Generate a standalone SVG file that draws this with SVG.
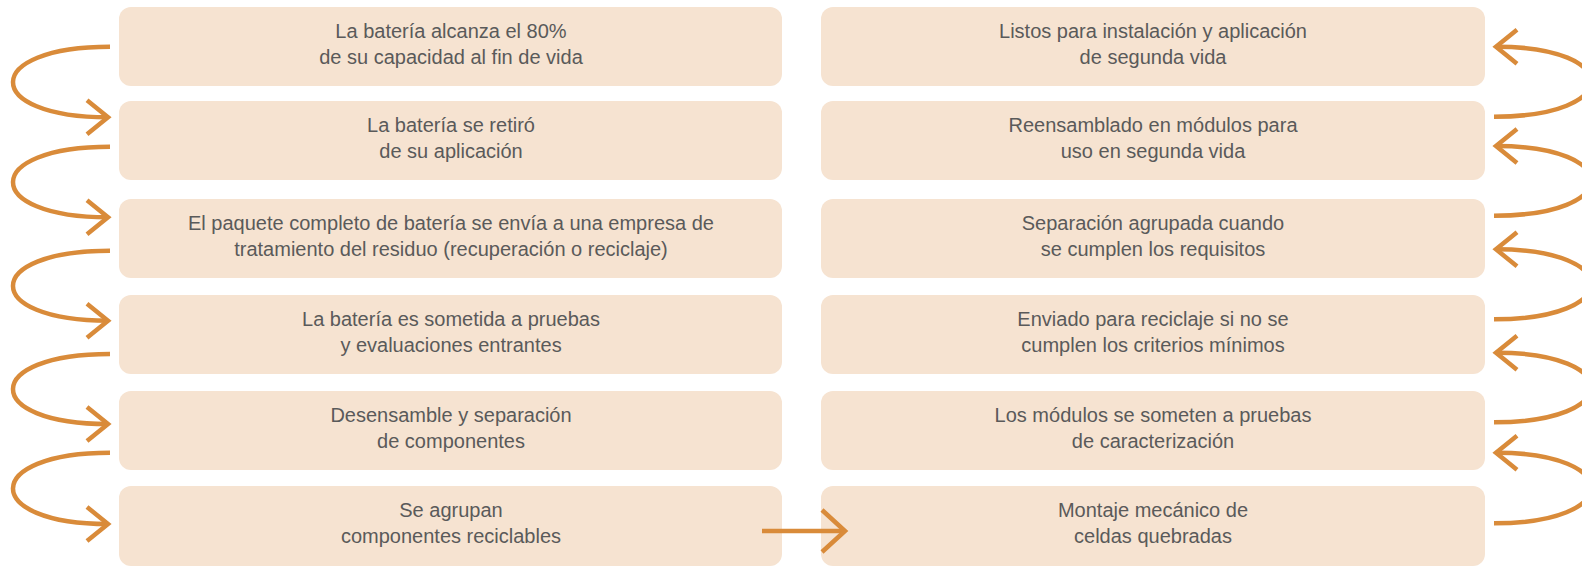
<svg xmlns="http://www.w3.org/2000/svg" width="1582" height="566" viewBox="0 0 1582 566">
<defs>
<style>
.box{fill:#F6E3D1;}
.t{font-family:"Liberation Sans",Arial,sans-serif;font-size:20px;fill:#5a5a5a;text-anchor:middle;}
.c{fill:none;stroke:#D98B3A;stroke-width:4.5;}
</style>
<marker id="ah" markerUnits="userSpaceOnUse" viewBox="-26 -22 30 44" refX="0" refY="0" markerWidth="30" markerHeight="44" orient="auto">
<path d="M-21,-17 L0,0 L-21,17" fill="none" stroke="#D98B3A" stroke-width="4.5"/>
</marker>
<marker id="ah2" markerUnits="userSpaceOnUse" viewBox="-28 -24 32 48" refX="0" refY="0" markerWidth="32" markerHeight="48" orient="auto">
<path d="M-23,-21 L0,0 L-23,21" fill="none" stroke="#D98B3A" stroke-width="4.5"/>
</marker>
</defs>
<rect width="1582" height="566" fill="#ffffff"/>

<g id="L1"><rect class="box" x="119" y="7" width="663" height="79" rx="12"/><text class="t" x="451" y="37.5">La batería alcanza el 80%</text><text class="t" x="451" y="63.5">de su capacidad al fin de vida</text></g>
<g id="L2"><rect class="box" x="119" y="101" width="663" height="79" rx="12"/><text class="t" x="451" y="131.5">La batería se retiró</text><text class="t" x="451" y="157.5">de su aplicación</text></g>
<g id="L3"><rect class="box" x="119" y="199" width="663" height="79" rx="12"/><text class="t" x="451" y="229.5">El paquete completo de batería se envía a una empresa de</text><text class="t" x="451" y="255.5">tratamiento del residuo (recuperación o reciclaje)</text></g>
<g id="L4"><rect class="box" x="119" y="295" width="663" height="79" rx="12"/><text class="t" x="451" y="325.5">La batería es sometida a pruebas</text><text class="t" x="451" y="351.5">y evaluaciones entrantes</text></g>
<g id="L5"><rect class="box" x="119" y="391" width="663" height="79" rx="12"/><text class="t" x="451" y="421.5">Desensamble y separación</text><text class="t" x="451" y="447.5">de componentes</text></g>
<g id="L6"><rect class="box" x="119" y="486" width="663" height="80" rx="12"/><text class="t" x="451" y="516.5">Se agrupan</text><text class="t" x="451" y="542.5">componentes reciclables</text></g>

<g id="R1"><rect class="box" x="821" y="7" width="664" height="79" rx="12"/><text class="t" x="1153" y="37.5">Listos para instalación y aplicación</text><text class="t" x="1153" y="63.5">de segunda vida</text></g>
<g id="R2"><rect class="box" x="821" y="101" width="664" height="79" rx="12"/><text class="t" x="1153" y="131.5">Reensamblado en módulos para</text><text class="t" x="1153" y="157.5">uso en segunda vida</text></g>
<g id="R3"><rect class="box" x="821" y="199" width="664" height="79" rx="12"/><text class="t" x="1153" y="229.5">Separación agrupada cuando</text><text class="t" x="1153" y="255.5">se cumplen los requisitos</text></g>
<g id="R4"><rect class="box" x="821" y="295" width="664" height="79" rx="12"/><text class="t" x="1153" y="325.5">Enviado para reciclaje si no se</text><text class="t" x="1153" y="351.5">cumplen los criterios mínimos</text></g>
<g id="R5"><rect class="box" x="821" y="391" width="664" height="79" rx="12"/><text class="t" x="1153" y="421.5">Los módulos se someten a pruebas</text><text class="t" x="1153" y="447.5">de caracterización</text></g>
<g id="R6"><rect class="box" x="821" y="486" width="664" height="80" rx="12"/><text class="t" x="1153" y="516.5">Montaje mecánico de</text><text class="t" x="1153" y="542.5">celdas quebradas</text></g>

<g id="connectors">
<path class="c" marker-end="url(#ah)" d="M110,46.7 C-19,46.7 -19,117.3 108,117.3"/>
<path class="c" marker-end="url(#ah)" d="M110,146.7 C-19,146.7 -19,217.3 108,217.3"/>
<path class="c" marker-end="url(#ah)" d="M110,250.7 C-19,250.7 -19,320.7 108,320.7"/>
<path class="c" marker-end="url(#ah)" d="M110,354 C-19,354 -19,424 108,424"/>
<path class="c" marker-end="url(#ah)" d="M110,452.7 C-19,452.7 -19,524 108,524"/>
<path class="c" marker-end="url(#ah2)" d="M762,531 L845,531"/>
<path class="c" marker-end="url(#ah)" d="M1494,523.3 C1623,523.3 1623,452.7 1496,452.7"/>
<path class="c" marker-end="url(#ah)" d="M1494,422.3 C1623,422.3 1623,352.7 1496,352.7"/>
<path class="c" marker-end="url(#ah)" d="M1494,319.3 C1623,319.3 1623,249.3 1496,249.3"/>
<path class="c" marker-end="url(#ah)" d="M1494,215.7 C1623,215.7 1623,146 1496,146"/>
<path class="c" marker-end="url(#ah)" d="M1494,116.7 C1623,116.7 1623,46.7 1496,46.7"/>
</g>
</svg>
